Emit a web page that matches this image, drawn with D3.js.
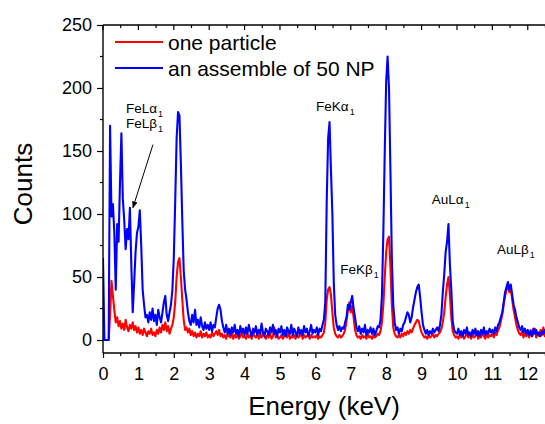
<!DOCTYPE html>
<html>
<head>
<meta charset="utf-8">
<script src="https://cdn.jsdelivr.net/npm/d3@7"></script>
<style>
  html, body { margin: 0; padding: 0; background: #fff; }
  svg { display: block; font-family: "Liberation Sans", Arial, sans-serif; }
</style>
</head>
<body>
<svg id="chart" width="545" height="424"></svg>
<script>
// ---- Data (counts per 0.04 keV channel, starting at 0 keV) ----
const channelStart = 0;
const channelWidth = 0.04;

const seriesNames = ["one particle", "an assemble of 50 NP"];

const redCounts = [
  0,0,0,0,0,20,47,35,24,14,18,11,15,9,13,8,16,10,7,12,9,14,8,11,6,
  10,5,8,4,9,6,3,7,5,9,4,6,3,8,5,10,6,12,8,14,7,11,5,9,12,
  18,30,50,62,65,50,32,16,8,10,6,9,4,7,3,6,2,5,3,7,2,5,3,6,2,
  4,2,6,3,5,7,4,8,3,5,2,4,1,5,3,2,6,1,4,2,5,1,3,6,2,
  3,1,5,2,4,1,6,3,2,5,1,4,2,6,3,1,4,2,5,1,3,10,2,4,1,
  2,4,1,3,5,2,7,1,3,2,4,1,5,2,3,6,1,4,2,3,5,1,4,2,3,
  2,4,1,3,2,4,6,14,32,40,42,36,22,10,5,3,2,4,2,3,5,8,15,24,30,
  22,27,18,8,4,2,3,1,4,2,3,1,5,2,3,1,4,2,3,5,4,7,14,28,50,
  70,80,82,58,28,10,5,3,2,4,2,5,3,6,4,7,5,8,6,9,12,14,16,15,10,
  6,4,2,3,1,4,2,3,5,2,4,3,5,6,9,14,22,34,44,50,36,18,7,4,2,
  3,1,4,2,5,1,3,6,2,4,1,5,2,3,7,1,4,2,6,3,1,5,2,4,3,
  5,2,6,4,8,10,15,20,28,35,40,42,38,40,32,24,18,12,8,5,4,7,2,5,3,
  6,2,8,3,5,9,2,6,3,8,4,10,3,7,5
];

const blueCounts = [
  65,0,0,0,0,170,98,108,85,40,92,78,125,164,112,95,72,88,80,105,60,22,45,70,85,
  90,103,75,40,28,18,20,14,22,16,25,15,20,12,24,18,14,22,30,35,20,15,22,28,40,
  65,110,160,181,178,140,95,55,40,32,22,15,12,20,14,24,12,16,10,18,11,8,14,9,12,
  8,14,7,12,10,18,25,28,24,15,10,6,12,5,9,4,10,6,12,5,8,3,11,6,9,
  4,10,5,12,7,3,9,6,11,4,8,5,13,6,3,9,7,4,10,6,12,5,8,3,9,
  6,11,4,8,3,10,7,5,12,4,9,6,3,10,5,8,4,11,6,9,3,7,12,5,8,
  6,10,4,9,7,12,16,30,110,160,173,135,100,45,20,12,8,11,7,10,9,14,18,28,24,
  30,35,25,18,10,7,11,5,9,6,12,4,8,6,10,5,9,4,7,11,10,16,35,85,150,
  205,225,200,135,65,28,14,8,10,5,9,7,12,14,18,22,20,14,18,26,32,38,42,44,34,
  22,12,8,5,8,4,7,5,9,6,8,10,7,12,20,38,52,70,78,92,60,40,15,8,6,
  5,9,4,7,3,8,5,10,4,6,3,8,5,9,4,7,3,8,5,10,4,7,5,9,6,
  8,5,10,7,12,14,18,22,30,38,42,46,40,44,36,28,24,18,14,10,8,11,6,9,5,
  8,4,7,3,9,5,8,4,6,3,7,5,8,4,6
];

const xTickValues = [0,1,2,3,4,5,6,7,8,9,10,11,12];
const yTickValues = [0,50,100,150,200,250];

const peakLabels = [
  {base: "FeL", greek: "\u03B1", sub: "1", e: 0.65, c: 180},
  {base: "FeL", greek: "\u03B2", sub: "1", e: 0.65, c: 168},
  {base: "FeK", greek: "\u03B1", sub: "1", e: 6.02, c: 182},
  {base: "FeK", greek: "\u03B2", sub: "1", e: 6.70, c: 52},
  {base: "AuL", greek: "\u03B1", sub: "1", e: 9.29, c: 108},
  {base: "AuL", greek: "\u03B2", sub: "1", e: 11.13, c: 68}
];
// arrow from label to FeLβ peak
const arrowFrom = {e: 1.41, c: 155};
const arrowTo = {e: 0.845, c: 105};

// ---- Layout ----
const svg = d3.select("#chart");
const pL = 103, pR = 549, pT = 25, pB = 353;

const x = d3.scaleLinear().domain([0, 12.6]).range([pL, pR]);
const y = d3.scaleLinear().domain([-10.3, 250]).range([pB, pT]);

const toPts = arr => arr.map((c, i) => [channelStart + i * channelWidth, c]);

const defs = svg.append("defs");
defs.append("clipPath").attr("id", "clip")
  .append("rect").attr("x", pL).attr("y", pT)
  .attr("width", pR - pL).attr("height", pB - pT);

const line = d3.line().x(d => x(d[0])).y(d => y(d[1]));

const plot = svg.append("g").attr("clip-path", "url(#clip)");
plot.append("path").datum(toPts(redCounts))
  .attr("d", line).attr("fill", "none").attr("stroke", "#ff0000")
  .attr("stroke-width", 2.1).attr("stroke-linejoin", "round");
plot.append("path").datum(toPts(blueCounts))
  .attr("d", line).attr("fill", "none").attr("stroke", "#0000ff")
  .attr("stroke-width", 2.1).attr("stroke-linejoin", "round");

// ---- Axes ----
const axisColor = "#000";
const xAxis = svg.append("g").attr("transform", `translate(0,${pB})`)
  .call(d3.axisBottom(x).tickValues(xTickValues).tickSize(5).tickPadding(9).tickFormat(d3.format("d")));
xAxis.select(".domain").remove();
xAxis.selectAll("text").attr("font-size", 18).attr("font-family", "Liberation Sans, Arial, sans-serif").attr("fill", "#000");
xAxis.selectAll("line").attr("stroke-width", 1.2);
const xMinor = d3.range(0.5, 12.6, 1);
svg.append("g").selectAll("line").data(xMinor).join("line")
  .attr("x1", d => x(d)).attr("x2", d => x(d))
  .attr("y1", pB).attr("y2", pB + 3)
  .attr("stroke", axisColor).attr("stroke-width", 1.2);
svg.append("g").selectAll("line").data(xTickValues).join("line")
  .attr("x1", d => x(d)).attr("x2", d => x(d))
  .attr("y1", pT).attr("y2", pT + 5)
  .attr("stroke", axisColor).attr("stroke-width", 1.2);
svg.append("g").selectAll("line").data(xMinor).join("line")
  .attr("x1", d => x(d)).attr("x2", d => x(d))
  .attr("y1", pT).attr("y2", pT + 3)
  .attr("stroke", axisColor).attr("stroke-width", 1.2);

const yAxis = svg.append("g").attr("transform", `translate(${pL},0)`)
  .call(d3.axisLeft(y).tickValues(yTickValues).tickSize(6).tickPadding(5));
yAxis.select(".domain").remove();
yAxis.selectAll("text").attr("font-size", 18).attr("font-family", "Liberation Sans, Arial, sans-serif").attr("fill", "#000");
yAxis.selectAll("line").attr("stroke-width", 1.2);
const yMinor = [25, 75, 125, 175, 225];
svg.append("g").selectAll("line").data(yMinor).join("line")
  .attr("x1", pL - 3).attr("x2", pL)
  .attr("y1", d => y(d)).attr("y2", d => y(d))
  .attr("stroke", axisColor).attr("stroke-width", 1.2);

svg.append("line").attr("x1", pL).attr("x2", pL).attr("y1", pT).attr("y2", pB)
  .attr("stroke", axisColor).attr("stroke-width", 1.4);
svg.append("line").attr("x1", pL).attr("x2", 545).attr("y1", pB).attr("y2", pB)
  .attr("stroke", axisColor).attr("stroke-width", 1.4);
svg.append("line").attr("x1", pL).attr("x2", 545).attr("y1", pT).attr("y2", pT)
  .attr("stroke", axisColor).attr("stroke-width", 1.4);

svg.append("text").attr("x", (pL + 545) / 2).attr("y", 415)
  .attr("text-anchor", "middle").attr("font-size", 26).attr("fill", "#000")
  .text("Energy (keV)");
svg.append("text").attr("transform", "translate(32,184) rotate(-90)")
  .attr("text-anchor", "middle").attr("font-size", 26).attr("fill", "#000")
  .text("Counts");

// ---- Legend ----
const legendColors = ["#ff0000", "#0000ff"];
const lg = svg.append("g");
seriesNames.forEach((name, i) => {
  const ly = 42 + i * 26;
  lg.append("line").attr("x1", 115).attr("x2", 163).attr("y1", ly).attr("y2", ly)
    .attr("stroke", legendColors[i]).attr("stroke-width", 2);
  lg.append("text").attr("x", 168).attr("y", ly + 7.5).attr("font-size", 21)
    .attr("fill", "#000").text(name);
});

// ---- Peak labels ----
peakLabels.forEach(p => {
  const t = svg.append("text").attr("x", x(p.e)).attr("y", y(p.c))
    .attr("font-size", 13.5).attr("fill", "#000");
  t.append("tspan").text(p.base);
  t.append("tspan").text(p.greek);
  t.append("tspan").attr("font-size", 9).attr("dy", 4).attr("dx", 1).text(p.sub);
});

defs.append("marker").attr("id", "ah")
  .attr("viewBox", "0 0 10 10").attr("refX", 9).attr("refY", 5)
  .attr("markerWidth", 7).attr("markerHeight", 7).attr("orient", "auto")
  .append("path").attr("d", "M0,1 L10,5 L0,9 Z").attr("fill", "#000");
svg.append("line")
  .attr("x1", x(arrowFrom.e)).attr("y1", y(arrowFrom.c))
  .attr("x2", x(arrowTo.e)).attr("y2", y(arrowTo.c))
  .attr("stroke", "#000").attr("stroke-width", 1)
  .attr("marker-end", "url(#ah)");
</script>
</body>
</html>
